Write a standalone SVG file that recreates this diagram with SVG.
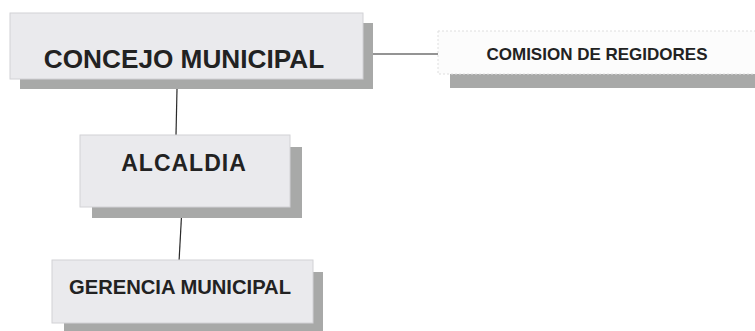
<svg xmlns="http://www.w3.org/2000/svg" width="755" height="331" viewBox="0 0 755 331">
  <style>
    .shadow { fill: #a8a9a8; }
    .box { fill: #eaeaed; stroke: #d2d2d5; stroke-width: 1; }
    .box-white { fill: #fcfcfc; stroke: #dedede; stroke-width: 1; stroke-dasharray: 2 2; }
    .label { font-family: "Liberation Sans", Arial, sans-serif; font-weight: bold; fill: #222222; text-anchor: middle; }
    .link { stroke: #2a2a2a; stroke-width: 1.2; fill: none; }
  </style>
  <rect width="755" height="331" fill="#ffffff"/>

  <g id="connectors">
    <line class="link" x1="373" y1="54" x2="438" y2="54"/>
    <line class="link" x1="177" y1="89" x2="176" y2="135"/>
    <line class="link" x1="182" y1="207" x2="179" y2="262"/>
  </g>

  <g id="concejo-municipal">
    <rect class="shadow" x="20" y="23" width="353" height="66"/>
    <rect class="box" x="10" y="13" width="353" height="66"/>
    <text class="label" x="184" y="68" font-size="26.2">CONCEJO MUNICIPAL</text>
  </g>

  <g id="comision-de-regidores">
    <rect class="shadow" x="450" y="74" width="305" height="14"/>
    <rect class="box-white" x="438" y="31" width="320" height="43"/>
    <text class="label" x="597" y="60" font-size="17">COMISION DE REGIDORES</text>
  </g>

  <g id="alcaldia">
    <rect class="shadow" x="92" y="147" width="210" height="71"/>
    <rect class="box" x="80" y="135" width="210" height="72"/>
    <text class="label" x="184" y="171" font-size="23" letter-spacing="1">ALCALDIA</text>
  </g>

  <g id="gerencia-municipal">
    <rect class="shadow" x="64" y="272" width="259" height="62"/>
    <rect class="box" x="52" y="260" width="261" height="63"/>
    <text class="label" x="180" y="294" font-size="20.2">GERENCIA MUNICIPAL</text>
  </g>
</svg>
